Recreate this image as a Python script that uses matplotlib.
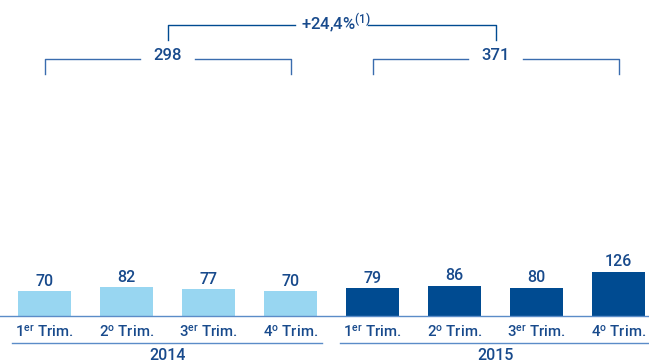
import matplotlib
matplotlib.use("Agg")
import matplotlib.pyplot as plt
import numpy as np

# data
quarters = ["1$^{\\mathrm{er}}$ Trim.", "2$^{\\mathrm{o}}$ Trim.", "3$^{\\mathrm{er}}$ Trim.", "4$^{\\mathrm{o}}$ Trim."]
years = ["2014", "2015"]
values_2014 = [70, 82, 77, 70]
values_2015 = [79, 86, 80, 126]
totals = ["298", "371"]
growth = "+24,4%$^{\\mathrm{(1)}}$"

plt.rcParams['font.family'] = ['Roboto', 'DejaVu Sans']
plt.rcParams['font.weight'] = 500
plt.rcParams['mathtext.fontset'] = 'custom'
plt.rcParams['mathtext.rm'] = 'Roboto:weight=500'
plt.rcParams['mathtext.it'] = 'Roboto'
plt.rcParams['mathtext.bf'] = 'Roboto:bold'

TXT = '#184a8c'
LIGHT = '#98d6f1'
DARK = '#004b91'
LINE = '#3a6cae'
AXIS = '#5b8cc8'

W, H = 649, 362
fig = plt.figure(figsize=(W / 100, H / 100), dpi=100)
ax = fig.add_axes([0, 0, 1, 1])
ax.set_axis_off()

pitch = 82.0
x0 = 44.5
ax.set_xlim(-x0 / pitch, (W - x0) / pitch)
px_per_unit = 0.353
base_px = 316  # from top
ax.set_ylim(-(H - base_px) / px_per_unit, base_px / px_per_unit)

def yfrac(ypix):
    return 1 - ypix / H

bt = ax.get_xaxis_transform()

x14 = np.arange(4)
x15 = np.arange(4) + 4
bw = 53 / pitch
ax.bar(x14, values_2014, width=bw, color=LIGHT, zorder=2)
ax.bar(x15, values_2015, width=bw, color=DARK, zorder=2)

for xs, vals in [(x14, values_2014), (x15, values_2015)]:
    for x, v in zip(xs, vals):
        ax.annotate(str(v), (x, v), xytext=(0, 3.8), textcoords='offset points',
                    ha='center', va='baseline', fontsize=11.5, color=TXT)

ax.axhline(0, color=AXIS, lw=1.0, zorder=3)

# quarter labels
for i, lab in enumerate(quarters * 2):
    ax.text(i, yfrac(332), lab, transform=bt, ha='center', va='center',
            fontsize=10.8, color=TXT)

# year lines and labels
for k, yr in enumerate(years):
    a, b = 4 * k - 0.4, 4 * k + 3 + 0.38
    ax.plot([a, b], [yfrac(343)] * 2, transform=bt, color=AXIS, lw=1.0,
            clip_on=False)
    ax.text((4 * k + 4 * k + 3) / 2, yfrac(355), yr, transform=bt,
            ha='center', va='center', fontsize=11.5, color=TXT)

# total brackets
centers = []
for k, tot in enumerate(totals):
    a, b = 4 * k, 4 * k + 3
    c = (a + b) / 2
    centers.append(c)
    yh, yb = yfrac(58.5), yfrac(74)
    gap = 0.33
    ax.plot([a, a, c - gap], [yb, yh, yh], transform=bt, color=LINE, lw=1.0)
    ax.plot([c + gap, b, b], [yh, yh, yb], transform=bt, color=LINE, lw=1.0)
    ax.text(c, yfrac(56), tot, transform=bt, ha='center', va='center',
            fontsize=12, color=TXT)

# growth bracket
a, b = centers
c = (a + b) / 2
yh, yb = yfrac(25), yfrac(40)
gap = 0.45
ax.plot([a, a, c - gap], [yb, yh, yh], transform=bt, color=DARK, lw=1.0)
ax.plot([c + gap, b, b], [yh, yh, yb], transform=bt, color=DARK, lw=1.0)
ax.text(c + 0.05, yfrac(23), growth, transform=bt, ha='center', va='center',
        fontsize=12, color=TXT)

fig.savefig("out.png", dpi=100, facecolor='white')
